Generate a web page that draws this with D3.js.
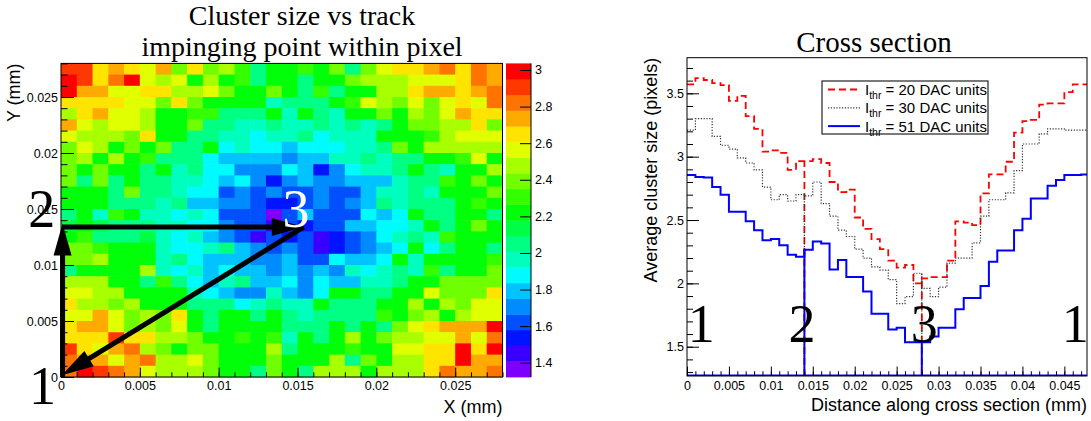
<!DOCTYPE html>
<html>
<head>
<meta charset="utf-8">
<script src="https://cdn.jsdelivr.net/npm/d3@7"></script>
<style>
  body { margin: 0; background: #fff; overflow: hidden; }
</style>
</head>
<body>
<div id="container"></div>
<script>
// ---------- data ----------
// left: average cluster size per 1 um x 1 um cell, top row (y = 0.027-0.028 mm) first
const clusterMap = [
  [2.91,2.91,2.65,2.74,2.65,2.57,2.74,2.39,2.65,2.39,2.48,2.31,2.05,2.22,2.22,2.31,2.22,2.39,2.05,2.39,2.57,2.65,2.65,2.74,2.82,2.65,2.82,2.74],
  [2.99,2.91,2.65,2.82,2.99,2.57,2.48,2.57,2.22,2.48,2.22,2.31,2.05,2.22,2.22,2.05,2.22,2.22,2.39,2.48,2.48,2.48,2.57,2.57,2.57,2.65,2.82,2.74],
  [2.99,2.74,2.74,2.57,2.57,2.65,2.65,2.48,2.48,2.57,2.39,2.22,2.22,2.39,2.22,2.05,2.31,2.05,2.22,2.22,2.48,2.48,2.65,2.74,2.74,2.65,2.74,2.82],
  [2.65,2.65,2.65,2.65,2.57,2.57,2.39,2.65,2.39,2.22,2.22,2.22,2.22,1.97,2.05,2.05,2.05,2.22,2.31,2.57,2.48,2.39,2.57,2.39,2.57,2.65,2.57,2.82],
  [2.48,2.65,2.74,2.57,2.57,2.48,2.22,2.22,2.31,2.31,2.05,2.05,2.05,2.22,1.97,2.22,2.05,1.97,2.22,2.22,2.39,2.22,2.48,2.39,2.57,2.74,2.65,2.65],
  [2.74,2.57,2.48,2.57,2.57,2.48,2.22,2.22,2.39,2.05,2.05,1.97,1.97,2.05,1.97,1.97,2.05,1.97,2.05,1.97,2.05,2.22,2.39,2.39,2.48,2.48,2.65,2.39],
  [2.57,2.48,2.48,2.48,2.39,2.65,2.22,2.22,2.05,2.05,1.97,1.97,1.88,1.97,1.97,2.05,1.88,1.97,1.97,1.97,2.22,2.22,2.22,2.31,2.48,2.57,2.57,2.57],
  [2.39,2.57,2.48,2.22,2.39,2.22,2.39,2.05,2.05,2.22,1.88,1.97,1.88,1.88,1.79,1.88,1.88,1.88,1.97,1.97,2.05,2.39,2.22,2.48,2.48,2.48,2.48,2.48],
  [2.39,2.48,2.22,2.48,2.22,2.31,2.05,2.05,2.05,1.88,1.79,1.79,1.79,1.79,1.71,1.79,1.79,1.97,1.97,2.05,1.97,2.05,2.05,2.22,2.22,2.31,2.57,2.22],
  [2.39,2.22,2.39,2.22,2.22,2.05,2.22,1.97,2.05,1.88,1.88,1.71,1.71,1.71,1.88,1.79,1.54,1.71,1.88,1.97,1.97,2.05,2.22,2.05,1.97,2.22,2.22,2.48],
  [2.39,2.05,2.39,2.05,2.22,2.05,2.05,1.97,1.97,1.88,1.79,1.88,1.71,1.54,1.71,1.79,1.71,1.71,1.79,1.79,1.79,1.97,2.05,2.05,2.31,2.22,2.39,2.22],
  [2.22,2.22,2.22,2.05,2.39,2.05,2.05,1.97,1.88,1.88,1.62,1.71,1.62,1.71,1.62,1.62,1.71,1.62,1.62,1.79,1.97,1.97,2.05,1.97,2.22,2.22,2.22,2.39],
  [2.22,2.22,2.22,2.05,2.05,2.05,1.97,2.05,1.79,1.79,1.71,1.71,1.62,1.54,1.54,1.62,1.71,1.62,1.71,1.79,2.05,1.97,2.05,2.05,2.05,2.22,2.31,2.22],
  [2.05,2.22,1.97,2.31,2.22,1.97,1.97,1.88,1.97,1.88,1.62,1.62,1.62,1.37,1.62,1.79,1.62,1.62,1.62,1.88,1.79,1.88,2.22,2.05,2.05,2.22,2.22,2.05],
  [2.14,2.22,2.14,2.05,2.05,2.05,1.97,1.97,1.88,1.88,1.71,1.62,1.62,1.45,1.62,1.54,1.62,1.62,1.79,1.79,1.88,1.88,1.97,2.22,2.05,2.22,2.39,2.22],
  [2.22,2.31,2.05,2.05,2.05,2.14,1.97,1.88,1.97,1.79,1.71,1.62,1.45,1.62,1.54,1.62,1.45,1.54,1.62,1.71,1.88,1.97,2.05,1.97,2.31,2.22,2.22,2.22],
  [2.39,2.39,2.31,2.22,2.22,2.22,1.97,1.88,1.88,1.97,2.05,1.79,1.71,1.62,1.71,1.62,1.45,1.54,1.62,1.71,1.79,1.88,2.22,1.88,2.05,2.22,2.22,2.05],
  [2.39,2.39,2.48,2.22,2.22,2.22,1.97,2.05,1.88,1.79,1.79,1.79,1.71,1.71,1.79,1.62,1.62,1.88,1.79,1.79,1.88,2.22,1.97,2.22,2.22,2.22,2.22,2.31],
  [2.05,2.22,2.22,2.22,2.22,2.48,1.97,1.88,1.97,1.79,1.88,1.79,1.79,1.71,1.79,1.71,1.79,1.71,1.97,1.88,1.97,2.05,1.97,2.31,2.05,2.22,2.22,2.39],
  [2.48,2.48,2.48,2.22,2.22,2.05,2.31,2.05,1.88,1.79,1.97,2.05,1.79,1.79,1.88,1.71,1.88,1.79,1.79,1.97,1.97,2.05,2.22,2.22,2.39,2.39,2.39,2.39],
  [2.57,2.57,2.48,2.48,2.22,2.22,2.22,2.22,1.97,1.88,1.79,1.71,1.71,1.97,1.79,1.71,1.88,2.22,2.22,2.05,2.05,2.22,2.22,2.57,2.39,2.39,2.39,2.65],
  [2.65,2.48,2.48,2.39,2.48,2.22,2.22,2.22,2.05,2.05,2.05,1.88,1.97,2.05,1.97,1.97,2.22,2.05,2.05,2.05,2.22,2.22,2.48,2.22,2.48,2.39,2.57,2.57],
  [2.57,2.57,2.74,2.57,2.39,2.48,2.39,2.65,2.22,2.05,2.22,2.22,2.05,2.22,2.05,1.97,2.05,2.05,2.05,2.05,2.31,2.22,2.39,2.48,2.22,2.48,2.57,2.57],
  [2.65,2.74,2.74,2.57,2.39,2.48,2.39,2.57,2.22,2.05,2.22,2.22,2.22,2.22,2.05,2.05,2.05,2.22,2.05,2.22,2.05,2.39,2.57,2.65,2.74,2.74,2.74,2.99],
  [2.65,2.65,2.65,2.91,2.65,2.65,2.48,2.48,2.39,2.22,2.22,2.31,2.22,2.31,1.97,2.22,2.05,2.22,2.48,2.22,2.39,2.48,2.48,2.57,2.57,2.74,2.57,2.82],
  [2.91,2.65,2.57,2.74,2.82,2.48,2.39,2.22,2.39,2.39,2.22,2.22,2.22,2.48,2.05,2.22,2.22,2.22,2.31,2.22,2.22,2.57,2.57,2.65,2.65,2.99,2.65,2.99],
  [2.82,2.74,2.74,2.57,2.74,2.82,2.48,2.48,2.57,2.39,2.22,2.22,2.22,2.39,2.22,2.22,2.22,2.48,2.05,2.39,2.22,2.48,2.48,2.65,2.65,2.99,2.74,2.74],
  [2.82,2.99,2.91,2.82,2.74,2.57,2.48,2.48,2.48,2.39,2.22,2.22,2.05,2.39,2.22,2.05,2.48,2.48,2.48,2.22,2.48,2.48,2.48,2.65,2.82,2.74,2.74,2.82]
];
const cellSize = 0.001;                 // mm
const mapRange = [0, 0.028];            // mm, both axes
const zRange = [1.322, 3.036];          // colour scale range
const palette = ["#7d00ff","#3a00ff","#0014ff","#0050ff","#008cff","#00c3ff","#00fbff","#00ffbf",
                 "#00ff82","#00ff44","#00ff09","#33ff00","#70ff00","#a8ff00","#e0ff00","#ffe400",
                 "#ffaa00","#ff7300","#ff3800","#ff0000"];
const mapTicks = [0, 0.005, 0.01, 0.015, 0.02, 0.025];
const zTicks = [1.4, 1.6, 1.8, 2, 2.2, 2.4, 2.6, 2.8, 3];

// path drawn on the map: 1 -> 2 -> 3 -> 1 (mm)
const pathPoints = { p1: [0.0001, 0], p2: [0.0001, 0.0134], p3: [0.0154, 0.0134] };
const mapArrows = [
  { from: pathPoints.p1, to: [0.0001, 0.0137] },
  { from: pathPoints.p2, to: pathPoints.p3 },
  { from: pathPoints.p3, to: [0.00005, 0.00015] }
];
const mapLabels = [
  { text: "1", x: -0.00118, y: -0.0024, color: "#000" },
  { text: "2", x: -0.00122, y: 0.0134, color: "#000" },
  { text: "3", x: 0.0149, y: 0.0134, color: "#fff" }
];

// right: average cluster size along the cross section, 0.001 mm bins
const binWidth = 0.001;
const thr20 = [3.57,3.62,3.605,3.58,3.565,3.44,3.48,3.32,3.22,3.04,3.05,3.03,2.895,2.965,2.965,2.98,
               2.95,2.80,2.72,2.74,2.52,2.43,2.35,2.27,2.18,2.125,2.145,2.00,2.04,2.05,2.05,2.18,
               2.49,2.48,2.46,2.71,2.86,2.86,2.96,3.19,3.28,3.29,3.41,3.42,3.42,3.51,3.57,3.57];
const thr30 = [3.21,3.30,3.30,3.16,3.09,3.06,2.99,2.95,2.895,2.76,2.66,2.70,2.65,2.70,2.69,2.80,
               2.63,2.53,2.42,2.37,2.27,2.20,2.13,2.105,2.03,1.84,1.895,2.08,1.96,1.895,1.97,2.16,
               2.20,2.20,2.32,2.53,2.66,2.66,2.715,2.89,3.10,3.10,3.18,3.22,3.22,3.21,3.21,3.21];
const thr51 = [2.855,2.84,2.835,2.76,2.70,2.565,2.565,2.49,2.42,2.34,2.35,2.30,2.225,2.21,2.265,2.33,
               2.315,2.11,2.185,2.05,2.05,1.935,1.76,1.76,1.635,1.65,1.535,1.535,1.535,1.58,1.65,1.65,
               1.795,1.885,1.885,1.98,2.17,2.26,2.26,2.42,2.51,2.67,2.67,2.77,2.815,2.855,2.855,2.86];
const thrLabels = ["20", "30", "51"];
const markerX = [0.014, 0.028];         // corners 2 and 3 of the path
const crossRangeX = [0, 0.0477];
const crossRangeY = [1.269, 3.781];
const crossTicksX = [0, 0.005, 0.01, 0.015, 0.02, 0.025, 0.03, 0.035, 0.04, 0.045];
const crossTicksY = [1.5, 2, 2.5, 3, 3.5];
const crossLabels = [
  { text: "1", x: 0.0017 }, { text: "2", x: 0.0137 }, { text: "3", x: 0.0283 }, { text: "1", x: 0.0463 }
];
const crossLabelY = 1.54;

// ---------- drawing ----------
const width = 1091;
const height = 421;
const sans = "'Liberation Sans', Arial, Helvetica, sans-serif";
const serif = "'Liberation Serif', 'Times New Roman', Times, serif";

const svg = d3.select("#container").append("svg")
  .attr("width", width)
  .attr("height", height);

// ROOT-like axis: ticks point into the frame, labelled majors plus short minors
function drawAxis(g, axisFn, scale, major, minor, len, pad) {
  g.call(axisFn(scale).tickValues(major).tickSizeInner(-len).tickSizeOuter(0)
    .tickPadding(pad).tickFormat((d) => String(d)));
  g.select(".domain").remove();
  g.append("g")
    .call(axisFn(scale).tickValues(minor).tickSizeInner(-len / 2).tickSizeOuter(0).tickFormat(""))
    .select(".domain").remove();
  g.selectAll("line").attr("stroke", "#000").attr("stroke-width", 1);
  g.selectAll("text").style("font-family", sans).style("font-size", "12.5px").attr("fill", "#000");
}

function arrow(g, p0, p1, head, half, lw) {
  const dx = p1[0] - p0[0], dy = p1[1] - p0[1];
  const L = Math.hypot(dx, dy);
  const ux = dx / L, uy = dy / L;
  const bx = p1[0] - ux * head, by = p1[1] - uy * head;
  g.append("line")
    .attr("x1", p0[0]).attr("y1", p0[1])
    .attr("x2", bx + ux * 2).attr("y2", by + uy * 2)
    .attr("stroke", "#000").attr("stroke-width", lw);
  g.append("polygon")
    .attr("points", [[p1[0], p1[1]], [bx - uy * half, by + ux * half], [bx + uy * half, by - ux * half]].join(" "))
    .attr("fill", "#000");
}

// ----- left panel: map -----
const xMap = d3.scaleLinear().domain(mapRange).range([61, 502.5]);
const yMap = d3.scaleLinear().domain(mapRange).range([377, 63.4]);
const zColor = d3.scaleQuantize().domain(zRange).range(palette);

const cells = [];
clusterMap.forEach((row, r) => {
  row.forEach((v, c) => cells.push({ ix: c, iy: clusterMap.length - 1 - r, v: v }));
});

const mapG = svg.append("g");
mapG.selectAll("rect")
  .data(cells)
  .enter()
  .append("rect")
  .attr("x", (d) => xMap(d.ix * cellSize))
  .attr("y", (d) => yMap((d.iy + 1) * cellSize))
  .attr("width", xMap(cellSize) - xMap(0) + 0.6)
  .attr("height", yMap(0) - yMap(cellSize) + 0.6)
  .attr("fill", (d) => zColor(d.v));

svg.append("rect")
  .attr("x", xMap(mapRange[0])).attr("y", yMap(mapRange[1]))
  .attr("width", xMap(mapRange[1]) - xMap(mapRange[0]))
  .attr("height", yMap(mapRange[0]) - yMap(mapRange[1]))
  .attr("fill", "none").attr("stroke", "#000").attr("stroke-width", 1);

const mapMinor = d3.range(0, 0.02801, 0.001);
drawAxis(svg.append("g").attr("transform", `translate(0, ${yMap(0)})`),
  d3.axisBottom, xMap, mapTicks, mapMinor, 9.4, 4);
drawAxis(svg.append("g").attr("transform", `translate(${xMap(0)}, 0)`),
  d3.axisLeft, yMap, mapTicks, mapMinor, 13, 3);

// colour bar
const yBar = d3.scaleLinear().domain(zRange).range([377, 63.4]);
const step = (zRange[1] - zRange[0]) / palette.length;
svg.append("g").selectAll("rect")
  .data(palette)
  .enter()
  .append("rect")
  .attr("x", 506)
  .attr("y", (d, i) => yBar(zRange[0] + (i + 1) * step))
  .attr("width", 25)
  .attr("height", yBar(zRange[0]) - yBar(zRange[0] + step) + 0.4)
  .attr("fill", (d) => d);
svg.append("line")
  .attr("x1", 531).attr("x2", 531).attr("y1", yBar.range()[1]).attr("y2", yBar.range()[0])
  .attr("stroke", "#000");
const barAxis = svg.append("g").attr("transform", "translate(531, 0)");
barAxis.call(d3.axisRight(yBar).tickValues(zTicks).tickSizeInner(-11).tickSizeOuter(0)
  .tickPadding(4).tickFormat((d) => String(d)));
barAxis.select(".domain").remove();
barAxis.selectAll("text").style("font-family", sans).style("font-size", "12.5px");

// arrows and corner labels
const arrowG = svg.append("g");
mapArrows.forEach((a) => {
  arrow(arrowG, [xMap(a.from[0]), yMap(a.from[1])], [xMap(a.to[0]), yMap(a.to[1])], 32, 9, 5);
});
svg.append("g").selectAll("text")
  .data(mapLabels)
  .enter()
  .append("text")
  .attr("x", (d) => xMap(d.x))
  .attr("y", (d) => yMap(d.y))
  .attr("text-anchor", "middle")
  .style("font-family", serif)
  .style("font-size", "54px")
  .attr("fill", (d) => d.color)
  .text((d) => d.text);

// titles
const leftTitle = svg.append("text")
  .attr("text-anchor", "middle")
  .style("font-family", serif)
  .style("font-size", "28px");
leftTitle.append("tspan").attr("x", 302).attr("y", 25).text("Cluster size vs track");
leftTitle.append("tspan").attr("x", 302).attr("y", 55.5).text("impinging point within pixel");

svg.append("text")
  .attr("x", 502.5).attr("y", 413)
  .attr("text-anchor", "end")
  .style("font-family", sans).style("font-size", "18px")
  .text("X (mm)");
svg.append("text")
  .attr("transform", "translate(20, 63.4) rotate(-90)")
  .attr("text-anchor", "end")
  .style("font-family", sans).style("font-size", "18px")
  .text("Y (mm)");

// ----- right panel: cross section -----
const xCross = d3.scaleLinear().domain(crossRangeX).range([687, 1087]);
const yCross = d3.scaleLinear().domain(crossRangeY).range([376, 57.7]);

const series = [
  { label: thrLabels[0], values: thr20, color: "#ff0000", width: 1.8, dash: "7,4" },
  { label: thrLabels[1], values: thr30, color: "#333333", width: 1.2, dash: "1.2,1.6" },
  { label: thrLabels[2], values: thr51, color: "#0000ff", width: 2, dash: null }
];

svg.append("clipPath").attr("id", "crossClip")
  .append("rect")
  .attr("x", xCross(crossRangeX[0])).attr("y", yCross(crossRangeY[1]))
  .attr("width", xCross(crossRangeX[1]) - xCross(crossRangeX[0]))
  .attr("height", yCross(crossRangeY[0]) - yCross(crossRangeY[1]));

const stepLine = d3.line()
  .x((d) => xCross(d[0]))
  .y((d) => yCross(d[1]))
  .curve(d3.curveStepAfter);

const plotG = svg.append("g").attr("clip-path", "url(#crossClip)");
series.forEach((s) => {
  const pts = s.values.map((v, i) => [i * binWidth, v]);
  pts.push([s.values.length * binWidth, s.values[s.values.length - 1]]);
  plotG.append("path")
    .attr("d", stepLine(pts))
    .attr("fill", "none")
    .attr("stroke", s.color)
    .attr("stroke-width", s.width)
    .attr("stroke-dasharray", s.dash);
  // vertical markers at the path corners
  markerX.forEach((m) => {
    const k = Math.round(m / binWidth);
    const top = Math.max(s.values[k - 1], s.values[k]);
    plotG.append("line")
      .attr("x1", xCross(m)).attr("x2", xCross(m))
      .attr("y1", yCross(crossRangeY[0])).attr("y2", yCross(top))
      .attr("stroke", s.color)
      .attr("stroke-width", s.width)
      .attr("stroke-dasharray", s.dash);
  });
});
// baseline of the 51 DAC histogram
plotG.append("line")
  .attr("x1", xCross(crossRangeX[0])).attr("x2", xCross(crossRangeX[1]))
  .attr("y1", yCross(crossRangeY[0]) - 0.5).attr("y2", yCross(crossRangeY[0]) - 0.5)
  .attr("stroke", "#0000ff").attr("stroke-width", 2);

svg.append("rect")
  .attr("x", xCross(crossRangeX[0])).attr("y", yCross(crossRangeY[1]))
  .attr("width", xCross(crossRangeX[1]) - xCross(crossRangeX[0]))
  .attr("height", yCross(crossRangeY[0]) - yCross(crossRangeY[1]))
  .attr("fill", "none").attr("stroke", "#000").attr("stroke-width", 1);

drawAxis(svg.append("g").attr("transform", `translate(0, ${yCross(crossRangeY[0])})`),
  d3.axisBottom, xCross, crossTicksX, d3.range(0, 0.0477, 0.001), 9.5, 5);
drawAxis(svg.append("g").attr("transform", `translate(${xCross(0)}, 0)`),
  d3.axisLeft, yCross, crossTicksY, d3.range(1.3, 3.78, 0.1), 12, 3);

svg.append("g").selectAll("text")
  .data(crossLabels)
  .enter()
  .append("text")
  .attr("x", (d) => xCross(d.x))
  .attr("y", yCross(crossLabelY))
  .attr("text-anchor", "middle")
  .style("font-family", serif)
  .style("font-size", "54px")
  .attr("fill", "#000")
  .text((d) => d.text);

// legend
const legend = svg.append("g").attr("transform", "translate(822, 81)");
legend.append("rect")
  .attr("width", 166).attr("height", 53)
  .attr("fill", "#fff").attr("stroke", "#222").attr("stroke-width", 1.2);
series.forEach((s, i) => {
  const g = legend.append("g").attr("transform", `translate(0, ${8.5 + i * 18.3})`);
  g.append("line")
    .attr("x1", 6).attr("x2", 38).attr("y1", 0).attr("y2", 0)
    .attr("stroke", s.color).attr("stroke-width", s.width)
    .attr("stroke-dasharray", s.dash);
  const t = g.append("text")
    .attr("x", 43).attr("y", 5.5)
    .style("font-family", sans).style("font-size", "15px");
  t.append("tspan").text("I");
  t.append("tspan").attr("dy", 4).style("font-size", "10.5px").text("thr");
  t.append("tspan").attr("dy", -4).text(` = ${s.label} DAC units`);
});

svg.append("text")
  .attr("x", 874).attr("y", 52)
  .attr("text-anchor", "middle")
  .style("font-family", serif).style("font-size", "29px")
  .text("Cross section");
svg.append("text")
  .attr("x", 1087).attr("y", 411)
  .attr("text-anchor", "end")
  .style("font-family", sans).style("font-size", "18px")
  .text("Distance along cross section (mm)");
svg.append("text")
  .attr("transform", "translate(657, 57.7) rotate(-90)")
  .attr("text-anchor", "end")
  .style("font-family", sans).style("font-size", "18px")
  .text("Average cluster size (pixels)");
</script>
</body>
</html>
